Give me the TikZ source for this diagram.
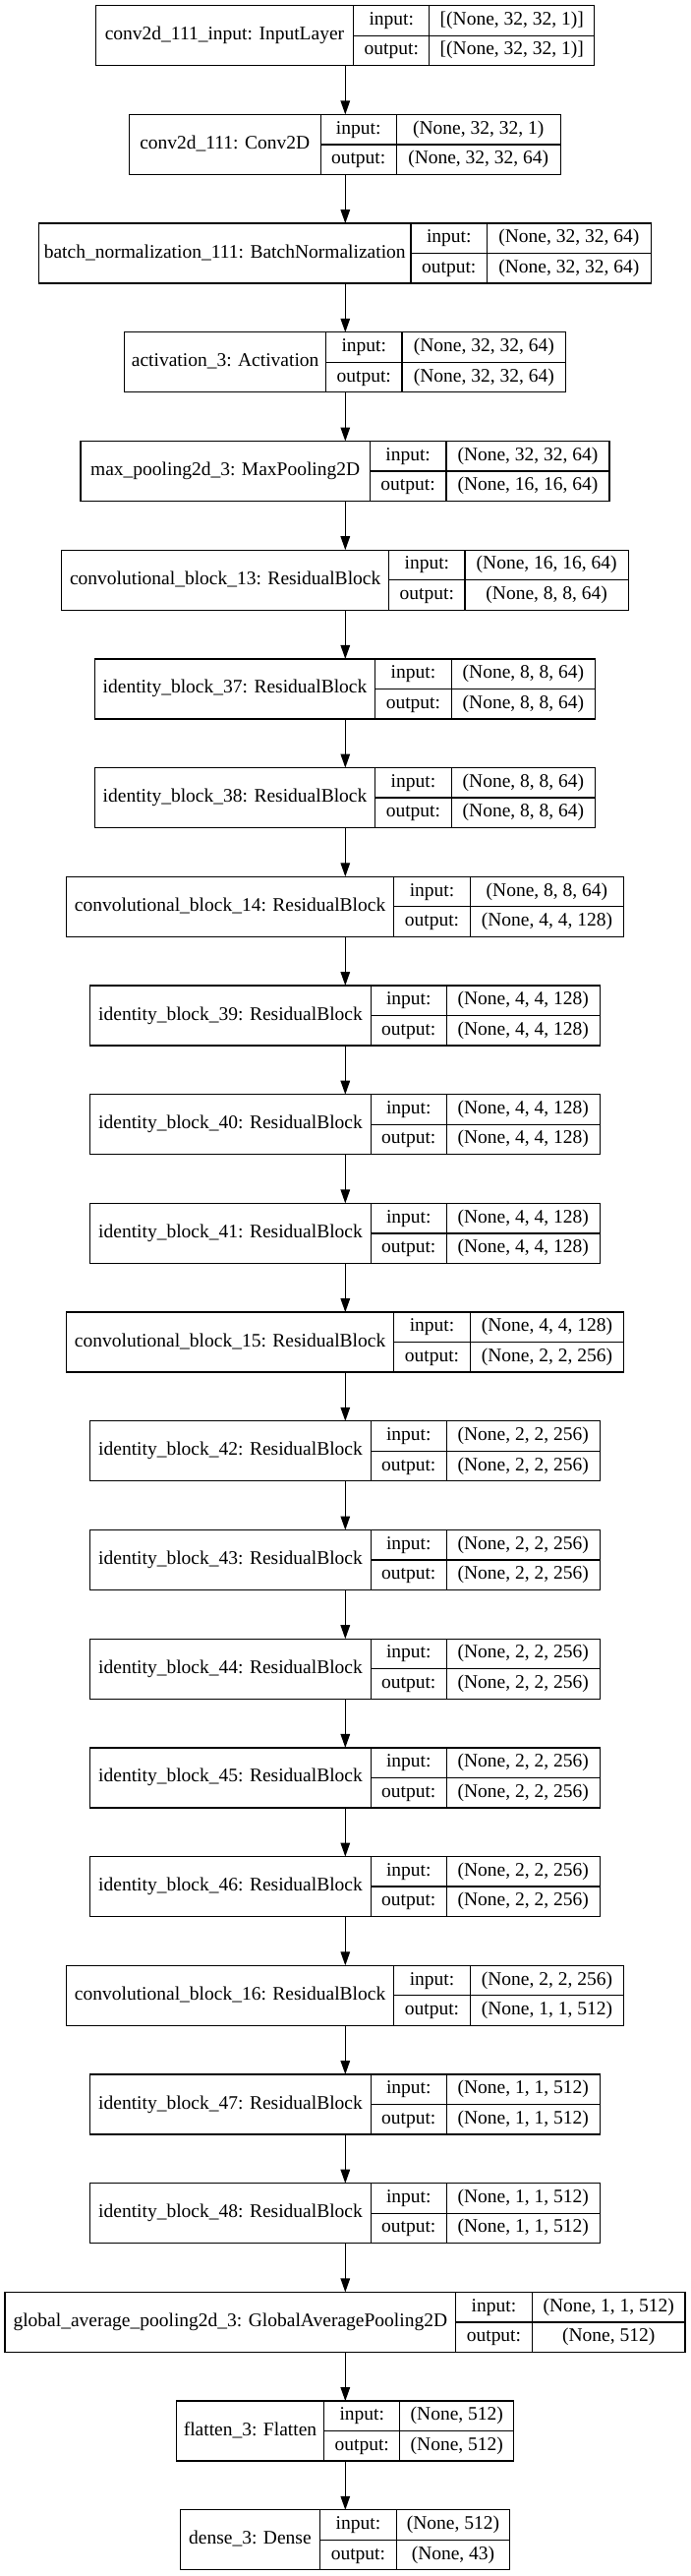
\documentclass[tikz,border=0pt]{standalone}
\usepackage{fontspec}
\setmainfont{Liberation Serif}
\usetikzlibrary{arrows.meta}
\tikzset{
  boxline/.style={draw=black, line width=1.33pt},
  lbl/.style={inner sep=0pt, outer sep=0pt, font=\fontsize{19.5pt}{22pt}\selectfont, text height=13.5pt, text depth=4.5pt, anchor=center},
  arr/.style={line width=1.33pt, -{Triangle[length=14pt,width=9.5pt]}},
}
\newcommand\layerbox[8]{%
  \pgfmathsetmacro\lbTop{5.7+110.7*#1}%
  \pgfmathsetmacro\lbBot{\lbTop+61}%
  \pgfmathsetmacro\lbMid{\lbTop+30.5}%
  \pgfmathsetmacro\lbW{#5-#2}%
  \node[boxline, inner sep=0pt, outer sep=0pt, minimum width=\lbW pt, minimum height=61pt, anchor=north west] (b#1) at (#2,\lbTop) {};
  \draw[boxline] (#3,\lbTop) -- (#3,\lbBot);
  \draw[boxline] (#4,\lbTop) -- (#4,\lbBot);
  \draw[boxline] (#3,\lbMid) -- (#5,\lbMid);
  \node[lbl] (b#1name) at ({(#2+#3)/2},\lbMid) {#6};
  \node[lbl] (b#1ik) at ({(#3+#4)/2},{\lbTop+15.25}) {input:};
  \node[lbl] (b#1ok) at ({(#3+#4)/2},{\lbTop+45.75}) {output:};
  \node[lbl] (b#1iv) at ({(#4+#5)/2},{\lbTop+15.25}) {#7};
  \node[lbl] (b#1ov) at ({(#4+#5)/2},{\lbTop+45.75}) {#8};
}
\begin{document}
\begin{tikzpicture}[x=1pt, y=-1pt]
\useasboundingbox[fill=white] (0,0) rectangle (703,2619);
\coordinate (ax) at (351.3,0);
\layerbox{0}{97.2}{359.8}{436.8}{604.8}{conv2d\_111\_input: InputLayer}{[(None, 32, 32, 1)]}{[(None, 32, 32, 1)]}
\layerbox{1}{131.3}{326.2}{403.2}{570.3}{conv2d\_111: Conv2D}{(None, 32, 32, 1)}{(None, 32, 32, 64)}
\layerbox{2}{39.4}{418}{495.5}{662.2}{batch\_normalization\_111: BatchNormalization}{(None, 32, 32, 64)}{(None, 32, 32, 64)}
\layerbox{3}{126.8}{331.5}{409}{575.7}{activation\_3: Activation}{(None, 32, 32, 64)}{(None, 32, 32, 64)}
\layerbox{4}{82}{376.3}{453.9}{620.1}{max\_pooling2d\_3: MaxPooling2D}{(None, 32, 32, 64)}{(None, 16, 16, 64)}
\layerbox{5}{62.7}{395.6}{473.1}{639.3}{convolutional\_block\_13: ResidualBlock}{(None, 16, 16, 64)}{(None, 8, 8, 64)}
\layerbox{6}{96.3}{381.7}{459.2}{605.7}{identity\_block\_37: ResidualBlock}{(None, 8, 8, 64)}{(None, 8, 8, 64)}
\layerbox{7}{96.3}{381.7}{459.2}{605.7}{identity\_block\_38: ResidualBlock}{(None, 8, 8, 64)}{(None, 8, 8, 64)}
\layerbox{8}{67.7}{400.5}{478.5}{634.4}{convolutional\_block\_14: ResidualBlock}{(None, 8, 8, 64)}{(None, 4, 4, 128)}
\layerbox{9}{91.8}{377.2}{454.3}{610.2}{identity\_block\_39: ResidualBlock}{(None, 4, 4, 128)}{(None, 4, 4, 128)}
\layerbox{10}{91.8}{377.2}{454.3}{610.2}{identity\_block\_40: ResidualBlock}{(None, 4, 4, 128)}{(None, 4, 4, 128)}
\layerbox{11}{91.8}{377.2}{454.3}{610.2}{identity\_block\_41: ResidualBlock}{(None, 4, 4, 128)}{(None, 4, 4, 128)}
\layerbox{12}{67.7}{400.5}{478.5}{634.4}{convolutional\_block\_15: ResidualBlock}{(None, 4, 4, 128)}{(None, 2, 2, 256)}
\layerbox{13}{91.8}{377.2}{454.3}{610.2}{identity\_block\_42: ResidualBlock}{(None, 2, 2, 256)}{(None, 2, 2, 256)}
\layerbox{14}{91.8}{377.2}{454.3}{610.2}{identity\_block\_43: ResidualBlock}{(None, 2, 2, 256)}{(None, 2, 2, 256)}
\layerbox{15}{91.8}{377.2}{454.3}{610.2}{identity\_block\_44: ResidualBlock}{(None, 2, 2, 256)}{(None, 2, 2, 256)}
\layerbox{16}{91.8}{377.2}{454.3}{610.2}{identity\_block\_45: ResidualBlock}{(None, 2, 2, 256)}{(None, 2, 2, 256)}
\layerbox{17}{91.8}{377.2}{454.3}{610.2}{identity\_block\_46: ResidualBlock}{(None, 2, 2, 256)}{(None, 2, 2, 256)}
\layerbox{18}{67.7}{400.5}{478.5}{634.4}{convolutional\_block\_16: ResidualBlock}{(None, 2, 2, 256)}{(None, 1, 1, 512)}
\layerbox{19}{91.8}{377.2}{454.3}{610.2}{identity\_block\_47: ResidualBlock}{(None, 1, 1, 512)}{(None, 1, 1, 512)}
\layerbox{20}{91.8}{377.2}{454.3}{610.2}{identity\_block\_48: ResidualBlock}{(None, 1, 1, 512)}{(None, 1, 1, 512)}
\layerbox{21}{4.9}{463.7}{541.2}{697.1}{global\_average\_pooling2d\_3: GlobalAveragePooling2D}{(None, 1, 1, 512)}{(None, 512)}
\layerbox{22}{179.2}{329.7}{406.8}{522.8}{flatten\_3: Flatten}{(None, 512)}{(None, 512)}
\layerbox{23}{183.2}{325.7}{403.2}{518.8}{dense\_3: Dense}{(None, 512)}{(None, 43)}
\foreach \i [evaluate=\i as \j using int(\i+1)] in {0,...,22}
  \draw[arr] (b\i.south -| ax) -- (b\j.north -| ax);
\end{tikzpicture}
\end{document}
